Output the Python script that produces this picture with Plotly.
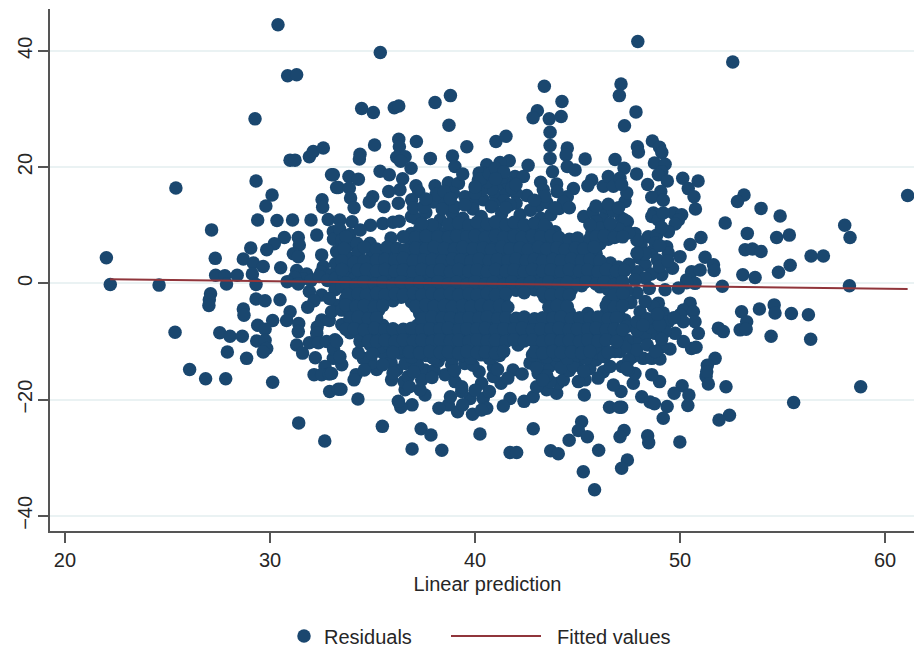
import plotly.graph_objects as go

# Residual points: (linear prediction, residual)
upper_left = [(30.39,44.5),(30.86,35.7),(31.30,35.9),(29.27,28.3),(30.98,21.2),(31.22,21.2),(31.92,21.8),(32.11,22.7),(32.6,23.3),(33.0,18.7),(33.25,16.5),(25.41,16.4),(29.32,17.6),(30.1,15.2),(29.8,13.3),(32.54,14.4),(32.57,13.1),(29.4,10.9),(30.34,10.8),(31.1,10.9),(32.0,10.9),(32.84,11.0),(27.15,9.2),(32.28,8.3),(33.09,8.9),(30.7,7.9),(31.38,7.9),(30.21,6.8),(29.84,5.8),(29.06,6.1),(31.43,6.6),(31.14,5.1),(31.38,4.6),(32.52,4.9),(33.25,5.5),(22.02,4.4),(27.33,4.3),(28.7,4.2),(29.19,3.5),(29.67,2.9),(30.52,2.7),(31.3,2.2),(31.79,1.6),(32.6,2.9),(32.5,1.9),(27.35,1.4),(27.8,1.3),(28.4,1.4),(29.14,1.6),(33.1,7.6),(33.2,3.4),(33.0,1.5),(31.6,0.8),(32.0,0.5),(32.4,1.2),(32.8,0.5),(33.2,0.9),(31.2,1.0)]
left_low = [(22.21,-0.2),(24.59,-0.3),(27.88,-0.1),(29.32,-0.2),(30.84,0.3),(31.38,-0.1),(27.1,-1.8),(27.04,-2.8),(27.02,-3.8),(29.32,-2.7),(29.76,-3.0),(30.49,-2.8),(31.92,-1.4),(32.52,-2.0),(32.15,-3.0),(31.84,-4.1),(28.7,-4.4),(28.73,-5.5),(30.98,-4.9),(30.81,-6.4),(30.13,-6.4),(29.4,-7.2),(29.76,-7.9),(31.4,-6.9),(31.38,-8.3),(32.52,-6.3),(32.89,-6.4),(32.3,-7.5),(33.28,-3.8),(33.17,-1.1),(33.5,-7.1),(25.37,-8.4),(27.55,-8.5),(28.05,-9.1),(28.65,-9.1),(29.35,-9.9),(29.76,-9.8),(29.84,-11.2),(29.67,-11.8),(27.92,-11.8),(28.86,-12.9),(31.3,-10.6),(31.59,-12.0),(31.92,-10.2),(32.28,-8.6),(32.36,-10.2),(32.76,-10.0),(33.17,-9.7),(32.21,-12.8),(33.09,-12.9),(32.68,-14.3),(32.15,-15.7),(32.52,-15.7),(32.89,-15.6),(26.08,-14.8),(26.86,-16.4),(27.84,-16.4),(30.13,-17.0),(32.91,-18.6),(33.33,-18.2),(31.4,-24.0),(32.67,-27.1),(33.0,-4.9),(32.9,-2.6),(33.1,-11.3)]
upper_mid = [(35.38,39.7),(34.47,30.1),(35.04,29.4),(36.06,30.2),(36.28,30.5),(38.05,31.1),(38.8,32.3),(38.73,27.2),(43.38,33.9),(44.24,31.3),(43.04,29.7),(42.83,28.5),(43.62,28.3),(44.2,28.7),(43.66,26.0),(47.12,34.3),(47.04,32.3),(47.29,27.1),(41.02,24.4),(41.51,25.3),(39.6,23.5),(35.1,23.8),(36.28,24.8),(36.31,23.5),(37.14,24.4),(34.39,22.2),(34.36,21.4),(37.82,21.5),(38.9,21.9),(36.18,21.7),(36.59,21.8),(36.37,21.0),(43.66,23.7),(43.66,21.5),(44.5,23.3),(44.44,22.1),(45.37,21.4),(46.83,21.3),(41.67,21.1),(41.22,20.8),(40.57,20.4),(39.02,20.1),(42.59,20.3),(36.88,19.8),(35.37,19.3),(35.82,18.7),(33.09,18.7),(33.85,18.4),(34.31,17.9),(33.33,16.5),(33.87,16.4),(36.47,18.0),(36.34,16.1),(35.79,15.8),(37.12,16.8),(37.25,15.8),(38.05,16.8),(38.7,17.3),(39.19,17.2),(39.4,18.8),(39.51,14.9),(40.16,17.8),(40.4,19.0),(40.89,19.0),(41.95,18.4),(42.36,18.4),(43.2,17.4),(43.33,16.1),(43.98,17.1),(43.78,19.2),(44.5,20.1),(44.88,19.5),(44.8,16.3),(44.5,14.9),(45.69,17.8),(45.5,16.8),(46.26,16.7),(46.5,18.4),(46.75,16.7),(47.27,19.8),(47.07,18.1),(47.32,14.1),(42.52,15.1),(43.09,13.3),(43.5,13.9),(35.01,14.9),(34.84,14.0),(33.93,14.7),(34.1,13.0),(35.56,13.2),(36.26,13.8),(36.91,14.4),(37.97,14.0),(38.54,14.1),(38.94,15.5),(33.4,10.9),(34.0,10.6),(34.9,10.0),(35.5,10.3),(36.0,10.5),(36.3,10.7),(36.9,11.5),(40.4,14.4),(41.0,15.0),(41.5,15.8),(41.1,17.0),(40.8,16.2),(40.3,16.0),(42.0,15.5),(41.6,17.3),(40.2,19.0),(40.6,17.5),(41.3,18.2),(42.0,13.8),(41.4,14.2),(40.9,13.6),(39.9,13.6)]
upper_right = [(47.94,41.6),(52.57,38.1),(47.85,29.5),(48.65,24.5),(47.92,23.5),(47.97,22.6),(49.0,23.4),(49.11,22.5),(48.75,20.7),(49.27,20.5),(49.11,19.2),(48.94,18.7),(49.38,17.6),(47.88,18.8),(48.42,17.0),(50.13,18.1),(50.88,17.6),(50.4,16.3),(50.68,14.9),(50.75,12.8),(49.06,15.8),(48.62,14.8),(49.18,14.3),(47.4,15.6),(47.15,17.0),(53.12,15.2),(52.8,14.1),(53.95,12.9),(54.88,11.6),(52.2,10.4),(58.03,10.0),(58.29,7.9),(61.1,15.1),(53.28,8.6),(54.71,7.9),(55.33,8.3),(51.02,7.9),(50.49,6.7),(53.17,5.8),(53.53,5.9),(53.95,5.5),(56.39,4.7),(56.99,4.7),(51.22,4.5),(51.63,3.2),(51.66,2.2),(55.37,3.1),(54.8,1.9),(53.06,1.5),(53.66,1.0),(50.56,2.0),(50.98,2.3),(50.32,0.6),(50.0,4.6),(49.63,2.6),(49.67,12.1),(50.08,11.8),(49.92,10.9),(49.76,10.2),(48.7,12.1),(48.62,11.5),(48.94,10.9),(49.18,12.1),(47.43,10.6),(47.15,11.2),(47.8,8.6),(48.45,8.0),(48.86,8.3),(49.43,8.9),(49.35,6.3),(49.43,5.2),(48.62,5.5),(48.1,6.6),(48.0,4.4),(48.3,3.2),(49.11,1.5),(47.9,2.0),(48.6,1.6),(48.3,0.9),(47.8,0.6),(48.9,4.0),(48.8,7.0),(49.0,2.9),(49.0,6.5),(48.3,5.0),(47.9,7.4),(49.4,3.9),(49.1,9.6)]
lower_right = [(58.26,-0.4),(52.06,-0.5),(50.73,0.0),(50.32,0.1),(49.92,-0.8),(49.27,-1.1),(50.49,-3.4),(50.16,-4.6),(48.94,-3.4),(48.7,-4.0),(48.05,-4.9),(50.65,-4.9),(50.0,-5.4),(50.73,-6.6),(50.16,-6.6),(49.18,-5.1),(49.43,-6.6),(48.9,-6.4),(50.89,-8.6),(51.87,-7.7),(52.11,-8.3),(53.0,-4.9),(53.87,-4.4),(54.59,-3.7),(54.63,-5.1),(55.43,-5.2),(56.26,-5.4),(53.25,-6.6),(52.93,-8.0),(53.22,-7.9),(54.44,-9.1),(56.37,-9.6),(51.71,-12.9),(51.33,-14.1),(51.27,-16.0),(51.3,-15.2),(51.38,-17.3),(52.24,-17.8),(58.81,-17.8),(50.1,-17.6),(49.71,-18.9),(50.43,-19.2),(50.38,-21.0),(48.13,-19.5),(48.54,-20.4),(48.75,-20.7),(49.37,-21.2),(49.18,-23.2),(52.41,-22.7),(51.9,-23.5),(55.54,-20.5),(48.42,-26.2),(48.47,-27.4),(49.99,-27.3),(47.43,-30.4),(47.15,-31.8),(47.27,-25.3),(47.07,-26.4),(47.15,-21.3),(47.12,-18.6),(47.72,-17.2),(49.0,-16.9),(48.62,-15.7),(47.8,-15.5),(47.46,-14.9),(47.17,-14.3),(48.2,-12.9),(48.62,-12.9),(49.02,-13.0),(47.7,-12.6),(49.51,-11.3),(49.11,-10.9),(50.56,-11.2),(50.78,-11.0),(50.16,-10.0),(49.76,-8.6),(49.27,-8.3),(48.78,-8.6),(48.29,-9.2),(47.8,-10.0),(47.4,-9.7),(47.88,-11.4),(47.07,-11.7),(47.32,-6.3),(47.4,-7.4),(48.6,-7.6),(49.0,-7.1),(47.9,-8.1),(48.4,-10.6),(47.5,-13.2),(47.9,-1.6),(48.5,-0.9),(47.6,-3.3),(47.9,-6.6),(48.4,-6.1),(48.2,-7.2),(47.3,-11.0),(48.8,-11.7),(49.1,-9.6),(48.9,-5.3),(49.7,-5.9),(48.3,-3.1)]
lower_mid = [(35.48,-24.6),(37.37,-25.0),(37.85,-26.1),(36.93,-28.5),(38.38,-28.7),(40.24,-25.9),(42.84,-25.0),(41.71,-29.1),(42.03,-29.1),(43.69,-28.8),(44.06,-29.3),(45.2,-23.8),(45.04,-25.3),(45.48,-26.4),(44.59,-27.0),(46.03,-28.7),(45.28,-32.4),(45.83,-35.5),(45.33,-19.2),(46.56,-21.3),(47.04,-21.3),(46.75,-17.5),(46.26,-15.2),(46.59,-14.3),(46.83,-11.7),(47.4,-14.6),(45.37,-16.6),(45.04,-16.9),(41.71,-19.8),(41.38,-21.1),(42.39,-20.3),(42.84,-19.5),(43.98,-18.9),(43.49,-18.3),(44.06,-17.2),(44.31,-16.6),(43.66,-16.9),(43.0,-17.8),(43.08,-15.5),(42.68,-13.7),(41.85,-14.9),(41.27,-17.2),(40.89,-16.0),(40.2,-15.2),(40.32,-17.2),(40.4,-19.8),(40.57,-21.5),(39.88,-22.5),(40.32,-21.8),(39.76,-19.8),(39.35,-18.6),(39.02,-16.9),(39.35,-17.8),(39.15,-22.1),(38.7,-20.9),(38.24,-21.5),(36.93,-20.9),(36.38,-21.3),(36.26,-20.3),(37.56,-19.2),(37.32,-18.3),(36.59,-18.3),(36.54,-16.9),(35.93,-16.6),(36.18,-14.9),(36.75,-16.0),(37.56,-14.9),(37.4,-16.6),(38.54,-15.7),(38.86,-14.0),(34.29,-19.9),(33.46,-18.2),(34.2,-15.7),(34.1,-16.6),(35.2,-14.8),(34.96,-13.7),(34.55,-12.9),(34.31,-12.0),(33.5,-14.0),(33.41,-12.6),(33.0,-15.5),(33.25,-10.0),(33.58,-7.1),(34.39,-10.0),(35.53,-12.0),(36.34,-12.0),(39.4,-20.9),(40.0,-18.4),(41.6,-16.3),(42.3,-15.6),(43.6,-14.4),(44.6,-15.0),(45.0,-13.6),(45.6,-14.7),(45.9,-13.2),(38.0,-15.0),(37.2,-14.0),(36.6,-13.8),(44.0,-13.4),(43.2,-13.1),(40.9,-14.4),(39.5,-13.8),(38.2,-13.4),(35.9,-13.6),(34.6,-14.9),(37.0,-15.2),(37.9,-16.2),(41.1,-14.8),(43.5,-15.9),(44.2,-14.5),(43.0,-14.5),(44.8,-14.2),(45.3,-15.1),(39.0,-15.0),(39.9,-14.1),(37.9,-12.7),(36.0,-15.4),(35.5,-14.0),(36.8,-17.8),(38.8,-19.5),(40.7,-18.6),(43.3,-16.6),(46.0,-16.3)]

# Dense middle of the cloud, band by band
core_y_11 = [(37.1,11.2),(37.6,12.2),(38.3,10.9),(38.9,12.0),(39.4,11.2),(39.9,12.8),(40.3,11.5),(40.8,13.2),(41.3,12.0),(41.7,13.5),(42.2,11.8),(42.7,12.6),(43.2,11.2),(43.7,11.8),(44.1,12.9),(45.3,11.5),(45.76,12.3),(46.4,12.4),(46.75,12.4),(47.3,10.9),(46.2,11.0),(45.9,10.6)]
core_y_9 = [(33.4,9.3),(33.9,8.4),(34.4,9.2),(36.9,8.6),(37.3,9.4),(37.7,8.5),(38.1,9.3),(38.5,8.6),(39.0,9.5),(39.4,8.8),(39.9,9.4),(40.3,8.7),(40.8,9.6),(41.2,8.9),(41.7,9.3),(42.1,8.6),(42.6,9.4),(43.0,8.8),(43.5,9.7),(43.9,8.9),(45.7,8.7),(46.1,9.5),(46.6,8.8),(47.0,9.4),(47.5,8.7)]
core_y_7 = [(33.5,7.4),(33.9,6.6),(34.24,6.9),(34.88,6.9),(35.9,7.8),(36.9,6.9),(37.4,7.6),(37.9,6.8),(38.4,7.8),(38.8,6.9),(39.3,7.5),(39.8,6.7),(40.2,7.7),(40.7,6.9),(41.1,7.6),(41.6,6.8),(42.0,7.7),(42.5,6.9),(42.9,7.5),(43.4,6.7),(43.8,7.6),(44.2,6.8),(44.7,7.4),(45.1,6.6),(45.6,7.7),(46.1,6.8),(46.5,7.6)]
core_y_5 = [(33.4,5.2),(33.8,4.5),(34.3,5.3),(35.0,4.9),(35.4,5.2),(35.9,4.6),(36.9,5.0),(37.3,4.4),(37.8,5.2),(38.2,4.6),(38.7,5.4),(39.1,4.7),(39.6,5.2),(40.0,4.5),(40.5,5.3),(40.9,4.6),(41.4,5.1),(41.8,4.4),(42.3,5.3),(42.7,4.6),(43.2,5.2),(43.6,4.5),(44.0,5.1),(44.5,4.7),(45.0,5.3),(45.4,4.6),(45.9,5.2),(47.9,5.2)]
core_y_3 = [(33.9,2.6),(34.9,3.4),(35.3,2.8),(35.8,3.6),(36.2,2.9),(36.7,3.7),(37.1,3.0),(37.6,3.6),(38.0,2.9),(38.5,3.8),(38.9,3.1),(39.4,3.5),(39.8,2.8),(40.3,3.7),(40.7,3.0),(41.2,3.6),(41.6,2.9),(42.1,3.7),(42.5,3.0),(43.0,3.5),(43.4,2.8),(43.9,3.7),(44.3,3.0),(44.8,3.5),(45.2,2.9),(45.7,3.6),(46.1,3.0),(46.6,3.5),(47.0,2.8),(47.5,3.3)]
core_y_1 = [(33.6,1.3),(34.1,0.8),(34.5,1.6),(35.0,1.0),(35.4,1.6),(35.9,0.9),(36.3,1.5),(36.8,0.8),(37.2,1.7),(37.7,1.0),(38.1,1.5),(38.6,0.8),(39.0,1.6),(39.5,1.0),(39.9,1.4),(40.4,0.7),(40.8,1.6),(41.3,1.0),(41.7,1.5),(42.2,0.8),(42.6,1.6),(43.1,1.0),(43.5,1.4),(44.0,0.7),(44.4,1.6),(44.9,1.0),(45.3,1.5),(45.8,0.8),(46.2,1.6),(46.7,1.0),(47.1,1.5)]
core_y_m1 = [(33.5,-0.6),(33.9,-1.2),(34.4,-0.5),(34.8,-1.2),(35.3,-0.4),(35.7,-1.1),(36.2,-0.6),(36.6,-1.3),(37.1,-0.5),(37.5,-1.2),(38.0,-0.6),(38.4,-1.1),(38.9,-0.4),(39.3,-1.2),(39.8,-0.6),(40.2,-1.3),(40.7,-0.5),(41.1,-1.1),(41.6,-0.6),(42.0,-1.2),(42.5,-0.4),(42.9,-1.1),(43.4,-0.6),(43.8,-1.3),(44.3,-0.5),(44.7,-1.1),(45.2,-0.4),(46.1,-0.6),(46.5,-1.1),(47.0,-0.5),(47.4,-1.2)]
core_y_m3 = [(33.7,-2.6),(34.2,-3.1),(34.6,-2.5),(35.1,-3.2),(35.5,-2.6),(36.0,-3.0),(36.4,-2.4),(36.9,-3.2),(37.3,-2.6),(37.8,-3.1),(38.2,-2.5),(38.7,-3.2),(39.1,-2.7),(39.6,-3.0),(40.0,-2.4),(40.5,-3.2),(40.9,-2.6),(41.4,-3.1),(43.4,-2.4),(43.9,-3.2),(44.3,-2.6),(46.5,-3.1),(47.0,-2.5),(47.4,-3.0)]
core_y_m5 = [(33.5,-4.6),(33.9,-5.0),(34.4,-4.5),(34.8,-5.2),(35.3,-4.6),(37.3,-5.2),(37.8,-4.5),(38.2,-5.0),(38.7,-4.6),(39.1,-5.2),(39.6,-4.5),(40.0,-5.1),(40.5,-4.7),(40.9,-5.2),(41.4,-4.6),(43.7,-5.2),(44.1,-4.5),(44.6,-5.0),(45.5,-5.2),(46.4,-5.1),(46.8,-4.5),(47.0,-5.2)]
core_y_m7 = [(34.1,-6.6),(34.6,-7.1),(35.0,-6.5),(35.5,-7.2),(37.2,-7.2),(37.7,-6.6),(38.1,-7.1),(38.6,-6.5),(39.0,-7.2),(39.5,-6.7),(39.9,-7.0),(40.4,-6.5),(40.8,-7.2),(41.3,-6.6),(41.7,-7.1),(42.2,-6.5),(42.6,-7.2),(43.1,-6.7),(43.5,-7.0),(44.0,-6.5),(44.4,-7.2),(44.9,-6.6),(45.3,-7.1),(45.8,-6.5),(46.2,-7.2),(46.7,-6.7)]
core_y_m9 = [(33.9,-8.5),(34.4,-8.9),(34.9,-8.4),(35.3,-9.1),(35.8,-8.6),(36.2,-9.0),(36.7,-8.4),(37.1,-9.1),(37.6,-8.6),(38.0,-9.0),(38.5,-8.4),(38.9,-9.1),(39.4,-8.6),(39.8,-9.0),(40.3,-8.4),(40.7,-9.1),(41.2,-8.6),(41.6,-9.0),(42.1,-8.4),(42.5,-9.1),(43.0,-8.6),(43.4,-9.0),(43.9,-8.4),(44.3,-9.1),(44.8,-8.6),(45.2,-9.0),(45.7,-8.4),(46.1,-9.1),(46.6,-8.6),(47.0,-8.9)]
core_y_m11 = [(34.9,-10.6),(35.4,-11.0),(35.8,-10.4),(36.3,-11.1),(36.7,-10.6),(37.2,-11.0),(37.6,-10.4),(38.1,-11.1),(38.5,-10.6),(39.0,-11.0),(39.4,-10.4),(39.9,-11.1),(40.3,-10.6),(40.8,-11.0),(41.2,-10.4),(42.1,-10.6),(43.0,-10.6),(43.5,-11.0),(43.9,-10.4),(44.4,-11.1),(44.8,-10.6),(45.3,-11.0),(45.7,-10.4),(46.2,-11.1)]
core_y_m13 = [(36.9,-12.7),(37.6,-12.4),(38.0,-12.9),(38.5,-12.3),(38.9,-12.9),(39.4,-12.4),(39.8,-12.9),(40.3,-12.3),(40.7,-12.9),(41.2,-12.4),(42.8,-12.3),(43.5,-12.7),(44.0,-12.3),(44.5,-12.9),(45.0,-12.4),(45.4,-12.9),(45.9,-11.9),(46.3,-12.6)]

# Second pass through the gaps that the first bands left open
fill_y_10 = [(37.9,10.1),(38.7,10.2),(39.2,10.4),(39.7,10.0),(40.1,10.5),(40.6,10.2),(41.0,10.6),(41.5,10.1),(41.9,10.5),(42.4,10.1),(42.9,10.4),(43.4,10.0),(45.6,10.1),(46.6,10.3),(37.4,10.3),(40.0,15.5),(40.3,18.0),(40.0,16.6),(40.7,18.8),(41.0,19.8),(41.4,19.2),(41.0,18.0),(41.8,16.4),(42.0,17.0),(41.5,13.0),(43.4,15.0),(44.0,15.8),(44.3,14.0),(43.9,13.0),(44.6,13.0),(37.0,13.0),(37.5,13.2),(38.1,15.3),(38.5,15.8),(39.0,13.2),(39.5,13.5),(38.4,12.8),(37.6,14.5),(38.8,14.6),(42.9,14.3),(45.9,13.3),(46.5,13.6),(47.0,13.0)]
fill_y_8 = [(36.5,8.0),(37.1,7.9),(37.6,8.1),(38.2,8.0),(38.7,7.9),(39.1,8.2),(39.6,8.0),(40.0,8.2),(40.5,7.9),(41.0,8.2),(41.4,7.9),(41.9,8.1),(42.3,7.9),(42.8,8.2),(43.2,8.0),(43.7,8.2),(44.1,7.9),(44.6,7.6),(45.0,7.8),(45.9,8.0),(46.3,8.2),(46.8,7.9),(47.2,8.0),(33.7,8.0)]
fill_y_6 = [(33.6,6.0),(34.6,6.2),(35.2,5.9),(35.7,6.2),(36.2,6.0),(36.6,5.8),(37.1,6.1),(37.6,5.9),(38.0,6.2),(38.5,6.0),(39.0,5.9),(39.4,6.2),(39.9,5.9),(40.4,6.1),(40.8,5.8),(41.3,6.2),(41.7,5.9),(42.2,6.1),(42.6,5.8),(43.1,6.2),(43.5,5.9),(44.0,6.1),(44.4,5.8),(44.9,6.1),(45.3,5.9),(45.8,6.2)]
fill_y_4 = [(33.5,3.9),(34.1,3.6),(34.6,3.9),(35.2,4.0),(35.6,4.1),(36.1,4.0),(36.5,4.3),(37.0,3.9),(37.5,4.0),(37.9,4.1),(38.4,3.9),(38.9,4.2),(39.3,4.0),(39.8,3.8),(40.2,4.2),(40.7,3.9),(41.1,4.1),(41.6,3.9),(42.0,4.2),(42.5,3.9),(42.9,4.1),(43.3,3.8),(43.8,4.1),(44.2,3.9),(44.7,4.2),(45.2,3.9),(45.6,4.1),(46.1,3.9)]
fill_y_2 = [(33.5,2.4),(34.3,2.3),(34.7,2.4),(35.2,2.1),(35.6,2.4),(36.1,2.1),(36.5,2.3),(37.0,2.0),(37.4,2.4),(37.9,2.1),(38.3,2.3),(38.8,2.0),(39.2,2.4),(39.7,2.1),(40.1,2.3),(40.6,2.0),(41.0,2.4),(41.5,2.1),(41.9,2.3),(42.4,2.0),(42.8,2.4),(43.3,2.1),(43.7,2.3),(44.2,2.0),(44.6,2.4),(45.1,2.1),(45.5,2.3),(46.0,2.0),(46.4,2.4),(46.9,2.1),(47.3,2.2)]
fill_y_0 = [(33.7,0.1),(34.2,-0.2),(34.6,0.3),(35.1,-0.1),(35.5,0.2),(36.0,-0.2),(36.4,0.3),(36.9,-0.1),(37.3,0.2),(37.8,-0.2),(38.2,0.3),(38.7,-0.1),(39.1,0.2),(39.6,-0.2),(40.0,0.3),(40.5,-0.1),(40.9,0.2),(41.4,-0.2),(41.8,0.3),(42.3,-0.1),(42.7,0.2),(43.2,-0.2),(43.6,0.3),(44.1,-0.1),(44.5,0.2),(45.0,-0.2),(45.4,0.3),(45.9,-0.1),(46.3,0.2),(46.8,-0.2),(47.2,0.3)]
fill_y_m2 = [(33.8,-1.9),(34.3,-1.8),(34.7,-2.0),(35.2,-1.7),(35.6,-2.0),(36.1,-1.8),(36.5,-2.0),(37.0,-1.7),(37.4,-2.0),(37.9,-1.8),(38.3,-2.0),(38.8,-1.7),(39.2,-2.0),(39.7,-1.8),(40.1,-2.0),(40.6,-1.7),(41.0,-2.0),(41.5,-1.8),(42.4,-1.6),(43.3,-1.7),(43.7,-2.0),(44.2,-1.8),(44.6,-2.0),(46.8,-2.0),(47.2,-1.7)]
fill_y_m4 = [(33.7,-3.7),(34.2,-4.0),(34.6,-3.8),(35.1,-4.1),(35.5,-3.8),(37.1,-4.0),(37.6,-3.7),(38.0,-4.0),(38.5,-3.8),(38.9,-4.1),(39.4,-3.8),(39.8,-4.0),(40.3,-3.7),(40.7,-4.0),(41.2,-3.8),(41.6,-4.1),(43.6,-4.1),(44.0,-3.8),(44.5,-4.0),(46.4,-3.8),(46.8,-4.1),(47.2,-3.9)]
fill_y_m6 = [(33.9,-6.0),(34.3,-5.8),(34.8,-6.1),(35.2,-5.9),(37.4,-6.1),(37.9,-5.8),(38.4,-6.0),(38.8,-5.9),(39.3,-6.1),(39.7,-5.9),(40.2,-6.0),(40.6,-5.8),(41.1,-6.1),(41.5,-5.9),(42.0,-6.0),(42.4,-5.8),(42.9,-6.1),(43.3,-5.9),(43.8,-6.0),(44.2,-5.8),(44.7,-6.1),(45.1,-5.9),(45.6,-6.0),(46.0,-5.8),(46.5,-6.1),(46.9,-5.9)]
fill_y_m8 = [(33.7,-7.9),(34.1,-7.8),(34.6,-8.0),(35.1,-7.7),(35.6,-8.0),(36.0,-7.8),(36.5,-7.9),(36.9,-7.7),(37.4,-8.0),(37.8,-7.8),(38.3,-7.9),(38.7,-7.7),(39.2,-8.0),(39.6,-7.8),(40.1,-7.9),(40.5,-7.7),(41.0,-8.0),(41.4,-7.8),(41.9,-7.9),(42.3,-7.7),(42.8,-8.0),(43.2,-7.8),(43.7,-7.9),(44.1,-7.7),(44.6,-8.0),(45.0,-7.8),(45.5,-7.9),(45.9,-7.7),(46.4,-8.0),(46.8,-7.8),(47.2,-8.0)]
fill_y_m10 = [(34.8,-9.9),(35.2,-10.0),(35.6,-9.8),(36.1,-10.0),(36.5,-9.7),(37.0,-9.9),(37.4,-9.8),(37.9,-10.0),(38.3,-9.7),(38.8,-9.9),(39.2,-9.8),(39.7,-10.0),(40.1,-9.7),(40.6,-9.9),(41.0,-9.8),(41.5,-10.0),(41.9,-9.7),(42.4,-9.9),(42.8,-9.8),(43.3,-10.0),(43.7,-9.7),(44.2,-9.9),(44.6,-9.8),(45.1,-10.0),(45.5,-9.7),(46.0,-9.9),(46.4,-9.8),(46.9,-10.0)]
fill_y_m12 = [(35.0,-12.1),(36.0,-11.9),(36.8,-11.8),(37.3,-12.0),(37.8,-11.7),(38.3,-11.9),(38.7,-11.8),(39.2,-12.0),(39.6,-11.7),(40.1,-11.9),(40.5,-11.8),(41.0,-12.0),(41.4,-11.7),(42.9,-11.8),(43.3,-12.0),(43.8,-11.7),(44.2,-11.9),(44.7,-11.8),(45.2,-12.0),(45.6,-11.7),(46.5,-11.9)]

point_groups = [upper_left, left_low, upper_mid, upper_right, lower_right, lower_mid,
                core_y_11, core_y_9, core_y_7, core_y_5, core_y_3, core_y_1, core_y_m1,
                core_y_m3, core_y_m5, core_y_m7, core_y_m9, core_y_m11, core_y_m13,
                fill_y_10, fill_y_8, fill_y_6, fill_y_4, fill_y_2, fill_y_0, fill_y_m2,
                fill_y_m4, fill_y_m6, fill_y_m8, fill_y_m10, fill_y_m12]
residual_x = [p[0] for g in point_groups for p in g]
residual_y = [p[1] for g in point_groups for p in g]

fit_x = [22.2, 61.1]
fit_y = [0.7, -0.95]

y_ticks = [-40, -20, 0, 20, 40]
x_ticks = [20, 30, 40, 50, 60]

NAVY = "#1a476f"
RED = "#90353b"
INK = "#262626"
FONT = "Liberation Sans"

fig = go.Figure()
fig.add_trace(go.Scatter(
    x=residual_x, y=residual_y, mode="markers", name="Residuals",
    marker=dict(color=NAVY, size=13.5, line=dict(width=0)), legend="legend",
))
fig.add_trace(go.Scatter(
    x=fit_x, y=fit_y, mode="lines", name="\u00a0\u00a0Fitted values",
    line=dict(color=RED, width=2), legend="legend2",
))

legend_common = dict(
    orientation="h", xanchor="left", yanchor="middle", yref="container", xref="container",
    y=1 - 636 / 647, bgcolor="rgba(0,0,0,0)", font=dict(family=FONT, size=20, color=INK),
)
fig.update_layout(
    width=914, height=647,
    margin=dict(l=50, r=0, t=9, b=116),
    paper_bgcolor="white", plot_bgcolor="white",
    font=dict(family=FONT, size=20, color=INK),
    showlegend=True,
    legend=dict(x=284 / 914, itemwidth=30, **legend_common),
    legend2=dict(x=446 / 914, itemwidth=90, **legend_common),
    xaxis=dict(
        range=[19.27, 61.41], tickvals=x_ticks, ticks="outside", ticklen=10, tickwidth=1.5,
        tickcolor="#555555", showgrid=False, zeroline=False, showline=True,
        linecolor="#555555", linewidth=2,
        title=dict(text="&#160;&#160;Linear prediction", standoff=7, font=dict(size=20)),
    ),
    yaxis=dict(
        range=[-42.6, 47.2], tickvals=y_ticks, ticks="outside", ticklen=10, tickwidth=1.5,
        tickcolor="#555555", tickangle=-90, ticklabelstandoff=-2, showgrid=True,
        gridcolor="#eaf2f3", gridwidth=1.5,
        zeroline=False, showline=True, linecolor="#555555", linewidth=2,
    ),
)

fig.write_html(
    "out.html",
    config=dict(displayModeBar=False),
    post_script="document.body.style.margin='0';document.body.style.overflow='hidden';",
)
